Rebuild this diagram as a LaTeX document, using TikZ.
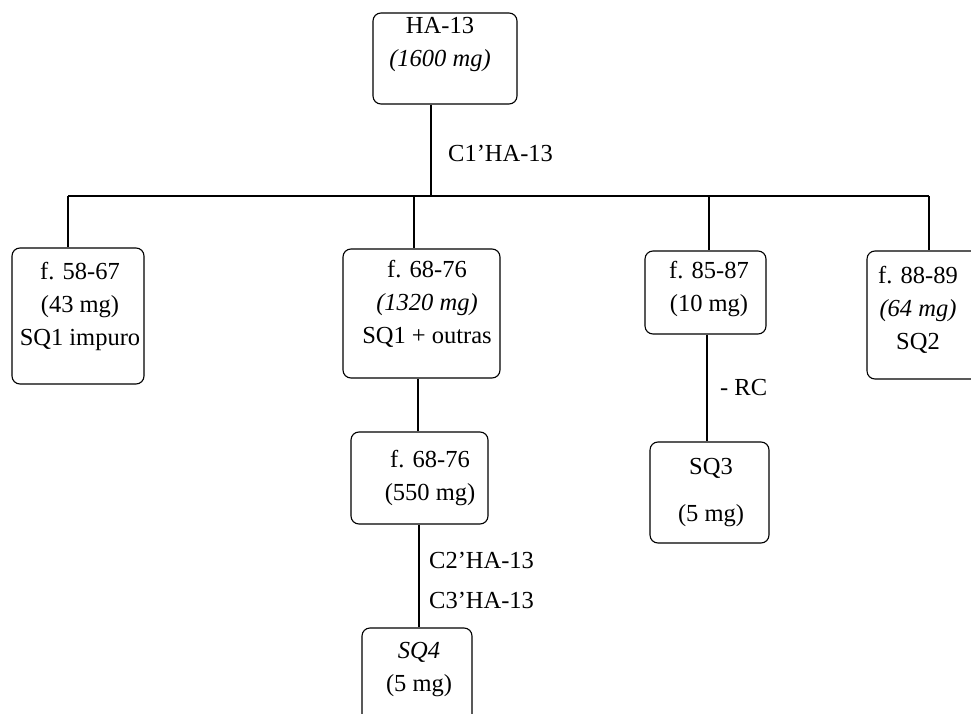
\documentclass[tikz,border=0pt]{standalone}
\usepackage{fontspec}
\setmainfont{Liberation Serif}
\begin{document}
\begin{tikzpicture}[x=1pt,y=-1pt,
  box/.style={draw, rounded corners=8pt, inner sep=0pt, line width=1.1pt},
  txt/.style={align=center, inner sep=0pt, font=\fontsize{24.5}{33}\selectfont},
  lbl/.style={anchor=west, inner sep=0pt, font=\fontsize{24.5}{28}\selectfont},
  con/.style={line width=1.1pt}]
\useasboundingbox (0,0) rectangle (971,714);
\clip (0,0) rectangle (971,714);
% boxes
\node[box, minimum width=144pt, minimum height=91pt] (ha) at (445,58.5) {};
\node[box, minimum width=132pt, minimum height=136pt] (b1) at (78,316) {};
\node[box, minimum width=157pt, minimum height=129pt] (b2) at (421.5,313.5) {};
\node[box, minimum width=121pt, minimum height=83pt] (b3) at (705.5,292.5) {};
\node[box, minimum width=133pt, minimum height=128pt] (b4) at (933.5,315) {};
\node[box, minimum width=137pt, minimum height=92pt] (b5) at (419.5,478) {};
\node[box, minimum width=119pt, minimum height=101pt] (sq3) at (709.5,492.5) {};
\node[box, minimum width=110pt, minimum height=112pt] (sq4) at (417,684) {};
% texts
\node[txt] (hat) at (440,44) {HA-13\\\textit{(1600 mg)}};
\node[txt] (b1t) at (80,306) {f. 58-67\\(43 mg)\\SQ1 impuro};
\node[txt] (b2t) at (427,304) {f. 68-76\\\textit{(1320 mg)}\\SQ1 + outras};
\node[txt] (b3t) at (709,289) {f. 85-87\\(10 mg)};
\node[txt] (b4t) at (918,310) {f. 88-89\\\textit{(64 mg)}\\SQ2};
\node[txt] (b5t) at (430,478) {f. 68-76\\(550 mg)};
\node[txt, font=\fontsize{24.5}{47}\selectfont] (sq3t) at (711,493) {SQ3\\(5 mg)};
\node[txt] (sq4t) at (419,670) {\textit{SQ4}\\(5 mg)};
% junctions
\coordinate (j0) at (431,196);
\coordinate (j1) at (68,196);
\coordinate (j2) at (414,196);
\coordinate (j3) at (709,196);
\coordinate (j4) at (929,196);
% connectors
\draw[con] (ha.south -| j0) -- (j0);
\draw[con] (j1) -- (j4);
\draw[con] (j1) -- (b1.north -| j1);
\draw[con] (j2) -- (b2.north -| j2);
\draw[con] (j3) -- (b3.north -| j3);
\draw[con] (j4) -- (b4.north -| j4);
\draw[con] ([xshift=-3.5pt]b2.south) -- ([xshift=-1.5pt]b5.north);
\draw[con] ([xshift=-0.5pt]b5.south) -- ([xshift=2pt]sq4.north);
\draw[con] ([xshift=1.5pt]b3.south) -- ([xshift=-2.5pt]sq3.north);
% labels
\node[lbl] (l1) at (448,153) {C1'HA-13};
\node[lbl] (l2) at (720,388) {- RC};
\node[lbl] (l3) at (429,560) {C2'HA-13};
\node[lbl] (l4) at (429,600) {C3'HA-13};
\end{tikzpicture}
\end{document}
